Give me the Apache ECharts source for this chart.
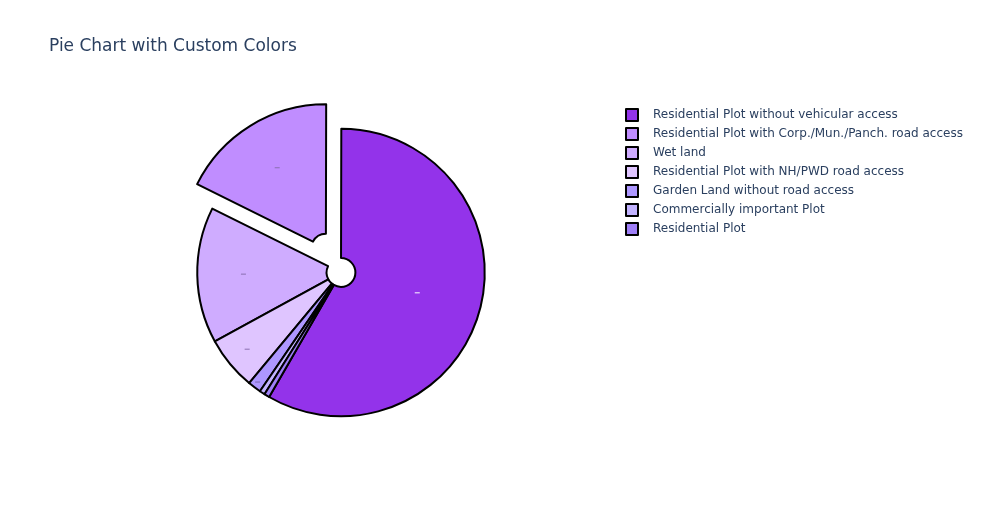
<!DOCTYPE html>
<html>
<head>
<meta charset="utf-8">
<script src="https://cdn.jsdelivr.net/npm/echarts@6/dist/echarts.min.js"></script>
<style>
html,body{margin:0;padding:0;background:#fff;}
#chart{width:984px;height:525px;}
</style>
</head>
<body>
<div id="chart"></div>
<script>
// Categories in legend order
const categories = [
  'Residential Plot without vehicular access',
  'Residential Plot with Corp./Mun./Panch. road access',
  'Wet land',
  'Residential Plot with NH/PWD road access',
  'Garden Land without road access',
  'Commercially important Plot',
  'Residential Plot'
];
// Share of each category (percent)
const values = [58.3, 17.7, 15.3, 6.0, 1.5, 0.6, 0.6];
// Custom colours
const colors = ['#9333ea', '#c08dff', '#cfacff', '#dfc5ff', '#ad97ff', '#c2b3ff', '#9f7ff7'];
// Pulled-out slice
const pulled = [false, true, false, false, false, false, false];
// Tiny inside text marks (plotly artefacts)
const markColors = ['#ffffff', '#8a6fb0', '#8a6fb0', '#8a6fb0', '#7a66b0', null, null];
const markPadding = [[0, 6, 2, 0], [0, 11, 21, 0], [0, 31, 0, 0], [49, 61, 0, 0], [88, 68, 0, 0], null, null];

const chart = echarts.init(document.getElementById('chart'), null, {renderer: 'canvas'});

const data = categories.map((name, i) => ({
  name: name,
  value: values[i],
  selected: pulled[i],
  itemStyle: {color: colors[i], borderColor: '#000', borderWidth: 2},
  select: {itemStyle: {color: colors[i], borderColor: '#000', borderWidth: 2}},
  label: markColors[i] ? {
    show: true,
    position: 'inside',
    formatter: '{m| }',
    padding: markPadding[i],
    rich: {m: {width: 5, height: 1, backgroundColor: markColors[i], fontSize: 1, lineHeight: 1}}
  } : {show: false}
}));

chart.setOption({
  animation: false,
  backgroundColor: '#fff',
  title: {
    text: 'Pie Chart with Custom Colors',
    left: 49,
    top: 38,
    padding: 0,
    textStyle: {fontFamily: 'DejaVu Sans', fontSize: 17, fontWeight: 'normal', color: '#2a3f5f'}
  },
  legend: {
    orient: 'vertical',
    left: 625,
    top: 108,
    padding: 0,
    itemWidth: 12,
    itemHeight: 12,
    itemGap: 5,
    icon: 'rect',
    selectedMode: false,
    data: categories,
    itemStyle: {borderColor: '#000', borderWidth: 2},
    textStyle: {fontFamily: 'DejaVu Sans', fontSize: 12, color: '#2a3f5f', padding: [0, 0, 0, 10], lineHeight: 14}
  },
  series: [{
    type: 'pie',
    center: [341, 272.5],
    radius: [14.4, 143.75],
    startAngle: 240,
    clockwise: false,
    selectedMode: 'multiple',
    selectedOffset: 28.75,
    avoidLabelOverlap: false,
    labelLine: {show: false},
    emphasis: {disabled: true},
    data: data
  }]
});
</script>
</body>
</html>
